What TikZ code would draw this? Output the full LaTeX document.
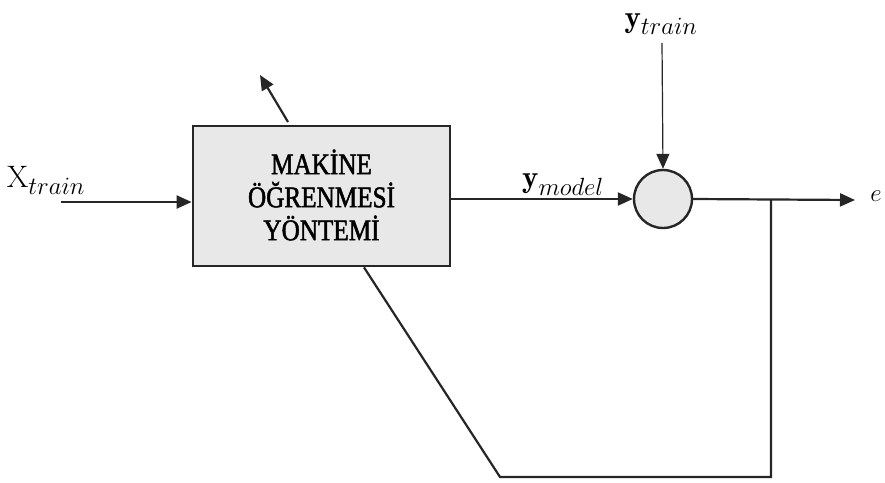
\documentclass[tikz,border=0pt]{standalone}
\usepackage{fontspec}
\newfontfamily\boxfont[FakeStretch=0.84, FakeBold=1.6]{Liberation Serif}
\DeclareMathSizes{31}{31}{24}{18}
\usetikzlibrary{arrows.meta}
\tikzset{
  wire/.style={draw=black!85, line width=2.2pt},
  flow/.style={wire, -{Triangle[length=15pt,width=13pt]}},
  blockbox/.style={draw=black!85, line width=2.8pt, fill=black!9, minimum width=257pt, minimum height=140pt, inner sep=0pt},
  sumnode/.style={circle, draw=black!85, line width=2.4pt, fill=black!9, minimum size=58pt, inner sep=0pt},
  lbl/.style={inner sep=0pt, anchor=base, font=\fontsize{31}{34}\selectfont}
}
\begin{document}
\begin{tikzpicture}[x=1pt,y=-1pt]
\useasboundingbox (0,0) rectangle (885,482);
% main block
\node[blockbox] (ml) at (321.5,196) {};
\node[align=center, inner sep=0pt, font=\boxfont\fontsize{30}{33}\selectfont] (mltext) at (321.5,195) {MAKİNE\\ÖĞRENMESİ\\YÖNTEMİ};
% summing junction
\node[sumnode] (sum) at (663,199) {};
% labels
\node[lbl] (xin) at (46,187) {$\mathrm{X}_{train}$};
\node[lbl] (ytr) at (661,27) {$\mathbf{y}_{train}$};
\node[lbl] (ymod) at (563,187) {$\mathbf{y}_{model}$};
\node[lbl] (err) at (876,201) {$e$};
% free ends
\coordinate (xstart) at (61,202);
\coordinate (ytop) at (662,43);
\coordinate (etip) at (855,200);
\coordinate (tap) at (771,200);
\coordinate (corner) at (771,477);
\coordinate (low) at (500,477);
\coordinate (adjtail) at (288,122);
\coordinate (adjtip) at (260,75);
% connectors
\draw[flow] (xstart) -- (xstart -| ml.west);
\draw[flow] (ml.east |- sum.west) -- (sum.west);
\draw[flow, line width=1.2pt] (ytop) -- (sum.north);
\draw[flow] (sum.east) -- (etip);
\draw[wire] (tap) -- (corner) -- (low) -- (ml.south -| 364,0);
\draw[flow] (adjtail) -- (adjtip);
\end{tikzpicture}
\end{document}
